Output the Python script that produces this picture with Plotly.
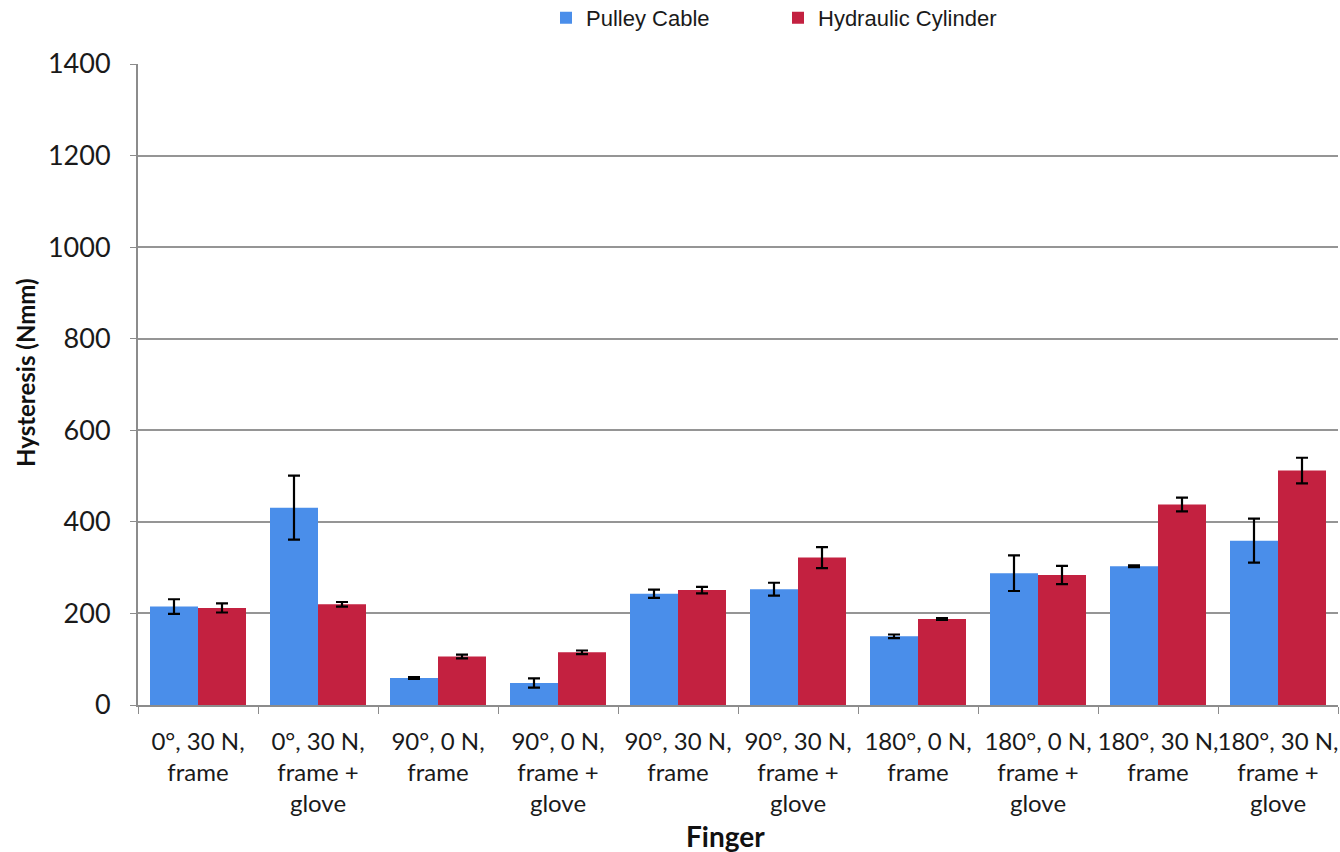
import plotly.graph_objects as go

# Test conditions along the x-axis
conditions = [
    "0°, 30 N,<br>frame",
    "0°, 30 N,<br>frame +<br>glove",
    "90°, 0 N,<br>frame",
    "90°, 0 N,<br>frame +<br>glove",
    "90°, 30 N,<br>frame",
    "90°, 30 N,<br>frame +<br>glove",
    "180°, 0 N,<br>frame",
    "180°, 0 N,<br>frame +<br>glove",
    "180°, 30 N,<br>frame",
    "180°, 30 N,<br>frame +<br>glove",
]

# Hysteresis means and standard deviations (Nmm)
pulley_cable = [215, 431, 59, 48, 243, 253, 150, 288, 303, 359]
pulley_cable_sd = [16, 70, 2, 10, 9, 14, 4, 39, 2, 48]
hydraulic_cylinder = [212, 220, 106, 115, 251, 322, 188, 284, 438, 512]
hydraulic_cylinder_sd = [10, 5, 4, 4, 7, 23, 2, 20, 15, 28]

y_ticks = [0, 200, 400, 600, 800, 1000, 1200, 1400]

BLUE = "#4A8EEA"
RED = "#C32140"
FONT = "Lato, 'Open Sans', sans-serif"
TEXT = "#1a1a1a"

err_style = dict(type="data", color="black", thickness=2.2, width=6)

fig = go.Figure()
fig.add_trace(go.Bar(
    name="Pulley Cable", x=conditions, y=pulley_cable,
    marker=dict(color=BLUE, line=dict(width=0)),
    error_y=dict(array=pulley_cable_sd, **err_style),
))
fig.add_trace(go.Bar(
    name="Hydraulic Cylinder", x=conditions, y=hydraulic_cylinder,
    marker=dict(color=RED, line=dict(width=0)),
    error_y=dict(array=hydraulic_cylinder_sd, **err_style),
))

fig.update_layout(
    width=1340, height=852,
    margin=dict(l=138, r=2, t=64, b=147, autoexpand=False),
    paper_bgcolor="white", plot_bgcolor="white",
    barmode="group", bargap=0.2, bargroupgap=0,
    font=dict(family=FONT, size=24, color=TEXT),
    legend=dict(
        orientation="h", x=0.34, xanchor="left", y=1.072, yanchor="middle",
        font=dict(family="'Liberation Sans', Arial, sans-serif", size=22, color=TEXT),
        itemwidth=30, traceorder="normal", entrywidth=187,
        bgcolor="rgba(0,0,0,0)",
    ),
    xaxis=dict(
        type="category", automargin=False, tickangle=0,
        tickson="boundaries", ticks="outside", ticklen=7, tickcolor="#8c8c8c",
        showline=True, linecolor="#8c8c8c", linewidth=2,
        showgrid=False,
        tickfont=dict(family=FONT, size=24, color=TEXT),
        ticklabelstandoff=14,
    ),
    yaxis=dict(
        range=[0, 1400], tickvals=y_ticks, automargin=False,
        ticks="outside", ticklen=6, tickcolor="#8c8c8c",
        showline=True, linecolor="#8c8c8c", linewidth=2,
        showgrid=True, gridcolor="#959595", gridwidth=2,
        zeroline=False,
        tickfont=dict(family=FONT, size=27, color=TEXT),
        ticklabelstandoff=14,
    ),
    annotations=[
        dict(text="<b>Finger</b>", xref="paper", yref="paper",
             x=(725 - 138) / 1200, y=-(855 - 705) / 641, xanchor="center", yanchor="bottom",
             showarrow=False, font=dict(family=FONT, size=28, color="#111111")),
        dict(text="<b>Hysteresis (Nmm)</b>", xref="paper", yref="paper",
             x=-(138 - 26) / 1200, y=(705 - 373) / 641, xanchor="center", yanchor="middle",
             textangle=-90, showarrow=False, font=dict(family=FONT, size=24, color="#111111")),
    ],
)

fig.write_html("out.html")
